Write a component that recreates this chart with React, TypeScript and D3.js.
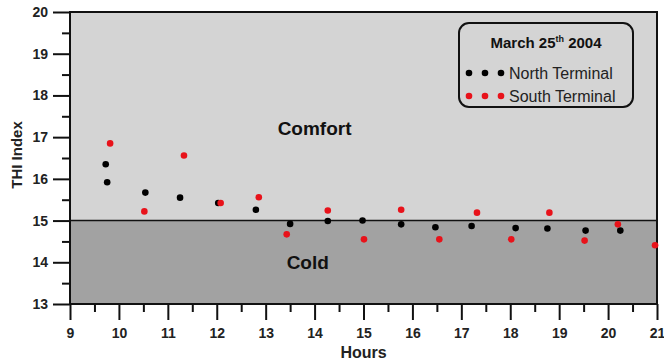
import React, { useRef, useEffect } from 'react';
import * as d3 from 'd3';

// North Terminal readings (hour, THI)
const northHours = [9.73, 9.76, 10.54, 11.25, 12.03, 12.8, 13.5, 14.27, 14.98, 15.77, 16.47, 17.21, 18.11, 18.76, 19.54, 20.25];
const northTHI = [16.35, 15.92, 15.67, 15.55, 15.42, 15.26, 14.92, 14.99, 15.0, 14.91, 14.84, 14.87, 14.82, 14.81, 14.76, 14.76];

// South Terminal readings (hour, THI)
const southHours = [9.82, 10.52, 11.33, 12.08, 12.86, 13.43, 14.27, 15.01, 15.77, 16.55, 17.32, 18.02, 18.8, 19.52, 20.2, 20.96];
const southTHI = [16.85, 15.22, 16.56, 15.42, 15.56, 14.67, 15.24, 14.55, 15.26, 14.55, 15.19, 14.55, 15.19, 14.52, 14.91, 14.41];

const xTicks = [9, 10, 11, 12, 13, 14, 15, 16, 17, 18, 19, 20, 21];
const yTicks = [13, 14, 15, 16, 17, 18, 19, 20];
const comfortLimit = 15;

const FONT = "'Liberation Sans', Arial, sans-serif";

const App: React.FC = () => {
  const svgRef = useRef<SVGSVGElement | null>(null);

  useEffect(() => {
    if (!svgRef.current) return;
    const svg = d3.select(svgRef.current);
    svg.selectAll('*').remove();

    const width = 664;
    const height = 361;
    const margin = { top: 12, right: 7, bottom: 57, left: 70 };
    const innerWidth = width - margin.left - margin.right;
    const innerHeight = height - margin.top - margin.bottom;

    const x = d3.scaleLinear().domain([9, 21]).range([0, innerWidth]);
    const y = d3.scaleLinear().domain([13, 20]).range([innerHeight, 0]);

    const g = svg.append('g').attr('transform', `translate(${margin.left},${margin.top})`);

    // zones
    g.append('rect')
      .attr('x', 0).attr('y', 0)
      .attr('width', innerWidth).attr('height', y(comfortLimit))
      .attr('fill', '#d4d4d4');
    g.append('rect')
      .attr('x', 0).attr('y', y(comfortLimit))
      .attr('width', innerWidth).attr('height', innerHeight - y(comfortLimit))
      .attr('fill', '#a2a2a2');
    g.append('line')
      .attr('x1', 0).attr('x2', innerWidth)
      .attr('y1', y(comfortLimit)).attr('y2', y(comfortLimit))
      .attr('stroke', '#111').attr('stroke-width', 1.6);

    g.append('text')
      .attr('x', x(14.0)).attr('y', y(17.05))
      .attr('text-anchor', 'middle')
      .style('font', `bold 19px ${FONT}`)
      .attr('fill', '#111')
      .text('Comfort');
    g.append('text')
      .attr('x', x(13.86)).attr('y', y(13.85))
      .attr('text-anchor', 'middle')
      .style('font', `bold 19px ${FONT}`)
      .attr('fill', '#111')
      .text('Cold');

    // frame
    g.append('rect')
      .attr('x', 0).attr('y', 0)
      .attr('width', innerWidth).attr('height', innerHeight)
      .attr('fill', 'none').attr('stroke', '#111').attr('stroke-width', 2);

    // minor ticks
    const xMinor = xTicks.slice(0, -1).map(t => t + 0.5);
    const yMinor = yTicks.slice(0, -1).map(t => t + 0.5);

    const styleAxis = (sel: d3.Selection<SVGGElement, unknown, null, undefined>) => {
      sel.select('.domain').remove();
      sel.selectAll('line').attr('stroke', '#111').attr('stroke-width', 2);
      sel.selectAll('text')
        .attr('fill', '#222')
        .style('font', `bold 14px ${FONT}`);
    };

    g.append('g')
      .attr('transform', `translate(0,${innerHeight})`)
      .call(d3.axisBottom(x).tickValues(xTicks).tickSize(16).tickPadding(8).tickFormat(d3.format('d')))
      .call(styleAxis);
    g.append('g')
      .attr('transform', `translate(0,${innerHeight})`)
      .call(d3.axisBottom(x).tickValues(xMinor).tickSize(8).tickFormat(() => ''))
      .call(styleAxis);
    g.append('g')
      .call(d3.axisLeft(y).tickValues(yTicks).tickSize(17).tickPadding(5).tickFormat(d3.format('d')))
      .call(styleAxis);
    g.append('g')
      .call(d3.axisLeft(y).tickValues(yMinor).tickSize(8).tickFormat(() => ''))
      .call(styleAxis);

    // axis titles
    svg.append('text')
      .attr('x', margin.left + x(15)).attr('y', 358)
      .attr('text-anchor', 'middle')
      .style('font', `bold 16px ${FONT}`)
      .attr('fill', '#222')
      .text('Hours');
    svg.append('text')
      .attr('transform', `translate(22,${margin.top + 143}) rotate(-90)`)
      .attr('text-anchor', 'middle')
      .style('font', `bold 15px ${FONT}`)
      .attr('fill', '#222')
      .text('THI Index');

    // points
    g.selectAll('circle.north')
      .data(northHours)
      .enter()
      .append('circle')
      .attr('class', 'north')
      .attr('cx', d => x(d))
      .attr('cy', (_, i) => y(northTHI[i]))
      .attr('r', 3.3)
      .attr('fill', '#000');

    g.selectAll('circle.south')
      .data(southHours)
      .enter()
      .append('circle')
      .attr('class', 'south')
      .attr('cx', d => x(d))
      .attr('cy', (_, i) => y(southTHI[i]))
      .attr('r', 3.3)
      .attr('fill', '#e8121a');

    // legend
    const lg = svg.append('g').attr('transform', 'translate(459,23)');
    lg.append('rect')
      .attr('width', 174).attr('height', 84)
      .attr('rx', 10).attr('ry', 10)
      .attr('fill', '#d4d4d4')
      .attr('stroke', '#111').attr('stroke-width', 2);
    const title = lg.append('text')
      .attr('x', 87).attr('y', 25)
      .attr('text-anchor', 'middle')
      .style('font', `bold 15px ${FONT}`)
      .attr('fill', '#111');
    title.append('tspan').text('March 25');
    title.append('tspan').attr('dy', -6).style('font-size', '9px').text('th');
    title.append('tspan').attr('dy', 6).text(' 2004');

    const legendItems = [
      { label: 'North Terminal', color: '#000' },
      { label: 'South Terminal', color: '#e8121a' },
    ];
    legendItems.forEach((item, i) => {
      const row = lg.append('g').attr('transform', `translate(0,${50 + i * 23})`);
      [10, 26, 42].forEach(cx => {
        row.append('circle').attr('cx', cx).attr('cy', 0).attr('r', 3.3).attr('fill', item.color);
      });
      row.append('text')
        .attr('x', 50).attr('y', 6)
        .style('font', `16px ${FONT}`)
        .attr('fill', '#222')
        .text(item.label);
    });
  }, []);

  return (
    <svg
      ref={svgRef}
      width={664}
      height={361}
      style={{ position: 'absolute', left: 0, top: 0, background: '#fff' }}
    />
  );
};

export default App;
